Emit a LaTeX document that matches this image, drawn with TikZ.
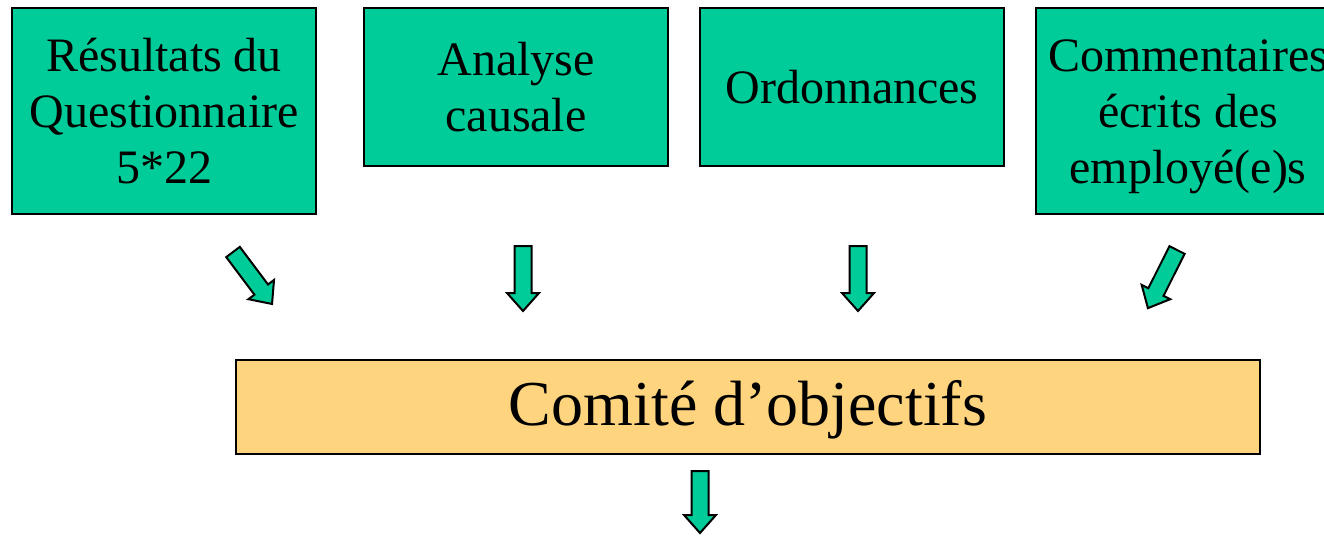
\documentclass[tikz,border=0pt]{standalone}
\usepackage{fontspec}
\setmainfont{Liberation Serif}
\definecolor{boxgreen}{RGB}{0,204,153}
\definecolor{boxyellow}{RGB}{255,212,126}
\newcommand{\lstrut}{\rule[-12pt]{0pt}{56pt}}
\newcommand{\bstrut}{\rule[-16pt]{0pt}{68pt}}
\tikzset{
  topbox/.style={draw=black, line width=2pt, fill=boxgreen, inner sep=0pt,
    minimum width=304pt, align=center, font=\fontsize{48}{56}\selectfont},
  mainbox/.style={draw=black, line width=2pt, fill=boxyellow, inner sep=0pt,
    minimum width=1024pt, minimum height=94pt, font=\fontsize{64}{72}\selectfont},
  blockarrow/.style={draw=black, line width=2pt, fill=boxgreen, line join=miter}
}
\newcommand{\blkarrow}[3]{%
  \draw[blockarrow, shift={#1}, rotate=#2]
    (0,-8.5) -- (#3-18,-8.5) -- (#3-18,-16) -- (#3,0) -- (#3-18,16) -- (#3-18,8.5) -- (0,8.5) -- cycle;}
\begin{document}
\begin{tikzpicture}[x=1pt,y=1pt]
\clip (0,0) rectangle (1324,-535);
\fill[white] (0,0) rectangle (1324,-535);
\node[topbox, minimum height=206pt] (r) at (164,-111) {\lstrut Résultats du\\\lstrut Questionnaire\\\lstrut 5*22};
\node[topbox, minimum height=158pt] (a) at (516,-87) {\lstrut Analyse\\\lstrut causale};
\node[topbox, minimum height=158pt] (o) at (852,-87) {\lstrut Ordonnances};
\node[topbox, minimum height=206pt] (c) at (1188,-111) {\lstrut Commentaires\\\lstrut écrits des\\\lstrut employé(e)s};
\node[mainbox] (m) at (748,-407) {\bstrut Comité d’objectifs};
\blkarrow{(233,-252)}{-53.1}{65}
\blkarrow{(523,-246)}{-90}{65}
\blkarrow{(858,-246)}{-90}{65}
\blkarrow{(1177,-250)}{-116.6}{65}
\blkarrow{(700,-471)}{-90}{62}
\end{tikzpicture}
\end{document}
